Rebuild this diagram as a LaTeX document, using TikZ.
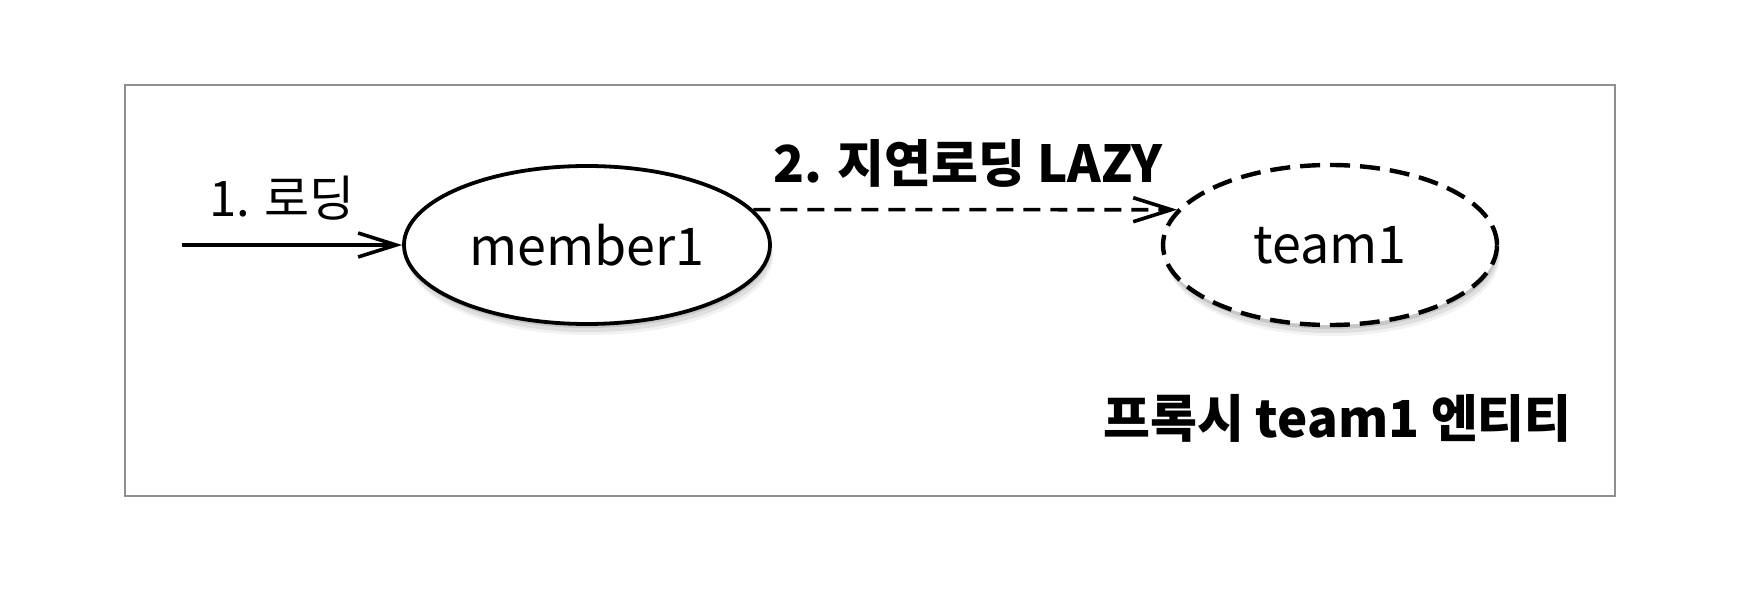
\documentclass[tikz,border=0pt]{standalone}
\usepackage{fontspec}
\setmainfont{Noto Sans CJK KR}
\usetikzlibrary{arrows.meta,shadows,shapes.geometric}
\definecolor{framegray}{HTML}{8F8F8F}
\begin{document}
\begin{tikzpicture}[x=0.5pt,y=-0.5pt,
  framebox/.style={draw=framegray, line width=1pt},
  softshadow/.style={
    drop shadow={shadow xshift=1.5pt, shadow yshift=-5.5pt, opacity=.10},
    drop shadow={shadow xshift=1pt, shadow yshift=-4pt, opacity=.16},
    drop shadow={shadow xshift=.5pt, shadow yshift=-2pt, opacity=.25}},
  entity/.style={ellipse, draw=black, fill=white, line width=1.9pt, inner sep=0pt,
    font=\fontsize{26}{30}\selectfont, softshadow},
  proxy/.style={entity, line width=2.2pt, dash pattern=on 10pt off 5pt},
  arrowline/.style={line width=1.8pt, -{Straight Barb[length=19pt, width=12pt, line width=1.8pt]}},
  thinlabel/.style={font=\fontsize{24.5}{28}\selectfont, inner sep=0pt, anchor=base west},
  boldlabel/.style={font=\bfseries\fontsize{25.5}{30}\selectfont, inner sep=0pt, anchor=base west}]
\useasboundingbox (0,0) rectangle (1738,614);
\fill[white] (0,0) rectangle (1738,614);
\draw[framebox] (125,85) rectangle (1615,496);

\node[entity, minimum width=183pt, minimum height=79pt] (member1) at (587,245) {member1};
\node[proxy, minimum width=167pt, minimum height=80pt] (team1) at (1330,245) {team1};

\coordinate (start) at (182,245);
\draw[arrowline] (start) -- (member1.west);
\draw[arrowline, dash pattern=on 8.5pt off 5pt] (member1.12) -- (team1.167);

\node[thinlabel] (lbl1) at (209,217) {1. 로딩};
\node[boldlabel] (lbl2) at (773,183) {2. 지연로딩 LAZY};
\node[boldlabel] (lbl3) at (1103,437) {프록시 team1 엔티티};
\end{tikzpicture}
\end{document}
